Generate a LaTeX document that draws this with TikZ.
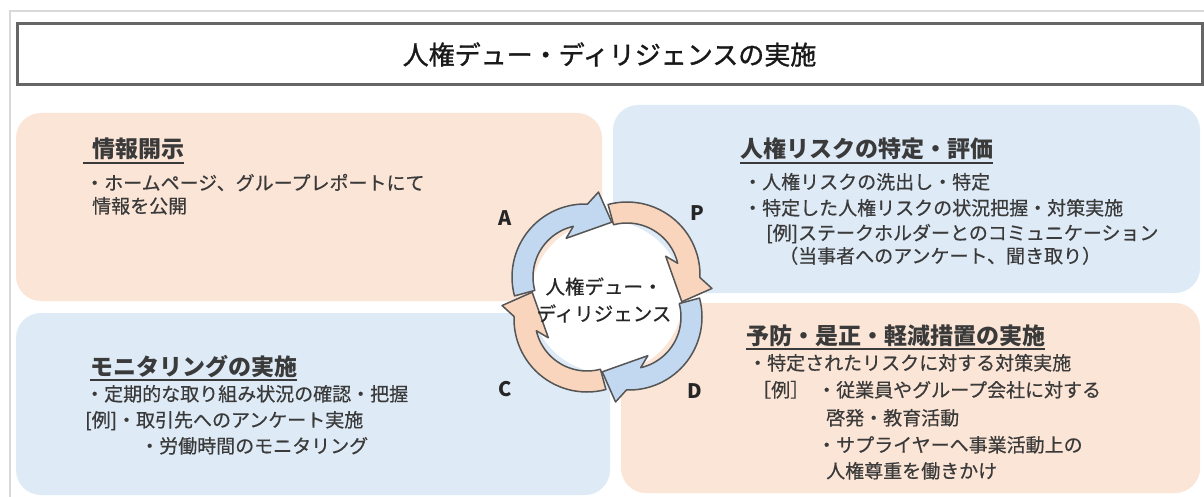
\documentclass[tikz,border=0pt]{standalone}
\usepackage{fontspec}
\setmainfont{Noto Sans CJK JP}
\newfontfamily\medfont{Noto Sans CJK JP}[FakeBold=0.5]
\newfontfamily\titlefont{Noto Sans CJK JP}[FakeBold=1.2]
\definecolor{txt}{HTML}{3A3A3A}
\definecolor{porange}{HTML}{FBE5D6}
\definecolor{pblue}{HTML}{DEEBF7}
\definecolor{ablue}{HTML}{C2D8F0}
\definecolor{aorange}{HTML}{F9D5BD}
\definecolor{aline}{HTML}{555555}
\definecolor{frameline}{HTML}{D9D9D9}
\definecolor{tline}{HTML}{666666}
\tikzset{
  panel/.style={rounded corners=25pt, inner sep=0pt, draw=none},
  body/.style={anchor=base west, inner sep=0pt, text=txt, font=\medfont\fontsize{19}{24}\selectfont},
  head/.style={anchor=base west, inner sep=0pt, text=txt, font=\fontsize{23}{28}\selectfont\bfseries},
  uline/.style={txt, line width=1.2pt},
  letter/.style={inner sep=0pt, text=black!85, font=\fontsize{20}{24}\selectfont\bfseries},
  cyclearrow/.style={draw=aline, line width=1.5pt, line join=round}
}
\newcommand\pdcaarrow[2]{%
  \begin{scope}[shift={(607,-297)}, rotate=#1, shift={(-22,20)}]
    \filldraw[cyclearrow, fill=#2]
      (195:73) arc[start angle=195, end angle=88, radius=73]
      -- (81:86) -- (64:61) -- (116:43) -- (103:52)
      arc[start angle=103, end angle=195, radius=52] -- cycle;
  \end{scope}}
\begin{document}
\begin{tikzpicture}[x=1pt,y=1pt]
\useasboundingbox (0,0) rectangle (1204,-497);
\fill[white] (0,0) rectangle (1204,-497);
\draw[frameline, line width=2pt] (10,-497) -- (10,-11) -- (1204,-11);
% title
\node (title) [draw=tline, line width=3pt, fill=white, minimum width=1185pt, minimum height=61pt, inner sep=0pt,
  text=black!90, font=\titlefont\fontsize{26}{30}\selectfont] at (609.5,-54.5) {人権デュー・ディリジェンスの実施};
% panels
\node (pTL) [panel, fill=porange, minimum width=586pt, minimum height=188pt] at (309,-207) {};
\node (pTR) [panel, fill=pblue, minimum width=587pt, minimum height=188pt] at (906.5,-199) {};
\node (pBL) [panel, fill=pblue, minimum width=594pt, minimum height=182pt] at (313,-404) {};
\node (pBR) [panel, fill=porange, minimum width=579pt, minimum height=190pt] at (910.5,-398) {};
% top-left text
\node (hTL) [head] at (92,-158) {情報開示};
\draw[uline] (83,-163) -- (hTL.base east |- 0,-163);
\node (tl1) [body] at (85,-190) {・ホームページ、グループレポートにて};
\node (tl2) [body] at (92,-213) {情報を公開};
% top-right text
\node (hTR) [head] at (740,-158) {人権リスクの特定・評価};
\draw[uline] (740,-163) -- (hTR.base east |- 0,-163);
\node (tr1) [body] at (743,-189) {・人権リスクの洗出し・特定};
\node (tr2) [body] at (743,-215) {・特定した人権リスクの状況把握・対策実施};
\node (tr3) [body] at (766,-240) {[例]ステークホルダーとのコミュニケーション};
\node (tr4) [body] at (779,-263) {（当事者へのアンケート、聞き取り）};
% bottom-left text
\node (hBL) [head] at (90,-375) {モニタリングの実施};
\draw[uline] (90,-380) -- (hBL.base east |- 0,-380);
\node (bl1) [body] at (85,-401) {・定期的な取り組み状況の確認・把握};
\node (bl2) [body] at (85,-427) {[例]・取引先へのアンケート実施};
\node (bl3) [body] at (140,-453) {・労働時間のモニタリング};
% bottom-right text
\node (hBR) [head] at (746,-344) {予防・是正・軽減措置の実施};
\draw[uline] (746,-349) -- (hBR.base east |- 0,-349);
\node (br1) [body] at (748,-370) {・特定されたリスクに対する対策実施};
\node (br2a) [body] at (752,-397) {［例］};
\node (br2) [body] at (817,-397) {・従業員やグループ会社に対する};
\node (br3) [body] at (826,-425) {啓発・教育活動};
\node (br4) [body] at (817,-452) {・サプライヤーへ事業活動上の};
\node (br5) [body] at (826,-478) {人権尊重を働きかけ};
% cycle
\fill[white] (607,-297) circle[radius=76];
\pdcaarrow{-90}{aorange}
\pdcaarrow{-180}{ablue}
\pdcaarrow{90}{aorange}
\pdcaarrow{0}{ablue}
\node (ctext) [align=center, inner sep=0pt, text=black!85, font=\medfont\fontsize{19.5}{27}\selectfont] at (604,-300) {人権デュー・\\ディリジェンス};
\node (lA) [letter] at (505,-218) {A};
\node (lP) [letter] at (697,-213) {P};
\node (lC) [letter] at (505,-389) {C};
\node (lD) [letter] at (695,-391) {D};
\end{tikzpicture}
\end{document}
